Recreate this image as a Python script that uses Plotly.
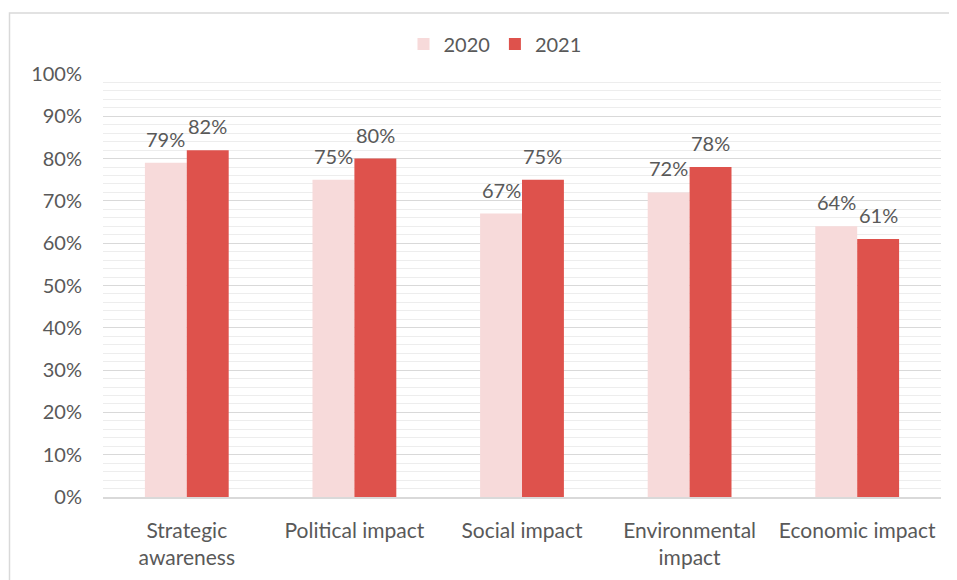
import plotly.graph_objects as go

categories = ["Strategic<br>awareness", "Political impact", "Social impact", "Environmental<br>impact", "Economic impact"]
values_2020 = [0.79, 0.75, 0.67, 0.72, 0.64]
values_2021 = [0.82, 0.80, 0.75, 0.78, 0.61]
series_names = ["2020", "2021"]
tick_vals = [i / 10 for i in range(11)]
tick_text = [f"{i*10}%" for i in range(11)]

FONT = "Lato, 'Open Sans', sans-serif"
GREY = "#595959"

OFF = 8  # default body margin of the page
W, H = 957 - OFF, 580 - OFF
L, T = 103 - OFF, 74 - OFF
R = W - (941 - OFF)
B = H - (497 - OFF)
pw, ph = W - L - R, H - T - B
BARGAP = 0.5
bar_w = pw / len(categories) * (1 - BARGAP) / 2

fig = go.Figure()
annotations = []
for i, (name, vals, col) in enumerate([(series_names[0], values_2020, "#F7DADA"),
                                        (series_names[1], values_2021, "#DE524C")]):
    fig.add_trace(go.Bar(
        x=categories, y=vals, name=name,
        marker=dict(color=col, line=dict(width=0)),
    ))
    for c, v in zip(categories, vals):
        annotations.append(dict(
            x=c, y=v, xref="x", yref="y", text=f"{round(v*100)}%", showarrow=False,
            xanchor="center", yanchor="middle", xshift=(i - 0.5) * bar_w, yshift=24,
            font=dict(size=20, color=GREY, family=FONT),
        ))

fig.update_layout(
    width=W, height=H,
    margin=dict(l=L, r=R, t=T, b=B, pad=0),
    paper_bgcolor="white", plot_bgcolor="white",
    barmode="group", bargap=BARGAP, bargroupgap=0,
    font=dict(family=FONT, size=20, color=GREY),
    legend=dict(orientation="h", x=0.5 - 27 / pw, xanchor="center", y=1 + (74 - 44) / ph, yanchor="middle",
                font=dict(size=20, color=GREY, family=FONT), itemwidth=30, tracegroupgap=0),
    xaxis=dict(showgrid=False, showline=True, linecolor="#D9D9D9", linewidth=1.5,
               ticks="", ticklabelstandoff=14, tickfont=dict(size=21, color=GREY, family=FONT)),
    yaxis=dict(range=[0, 1], tickvals=tick_vals, ticktext=tick_text,
               showgrid=True, gridcolor="#D9D9D9", gridwidth=1.3,
               minor=dict(dtick=0.02, showgrid=True, gridcolor="#EDEDED", gridwidth=1),
               zeroline=False, showline=False, ticks="", ticklabelstandoff=20,
               tickfont=dict(size=20, color=GREY, family=FONT)),
    annotations=annotations,
    shapes=[dict(type="rect", xref="paper", yref="paper",
                 x0=(9.5 - 103) / pw, x1=(957 + 20 - 103) / pw,
                 y0=-(580 - 497 + 20) / ph, y1=1 + (74 - 13) / ph,
                 line=dict(color="#D9D9D9", width=1.5), fillcolor="rgba(0,0,0,0)", layer="below")],
)

fig.write_html("out.html")
